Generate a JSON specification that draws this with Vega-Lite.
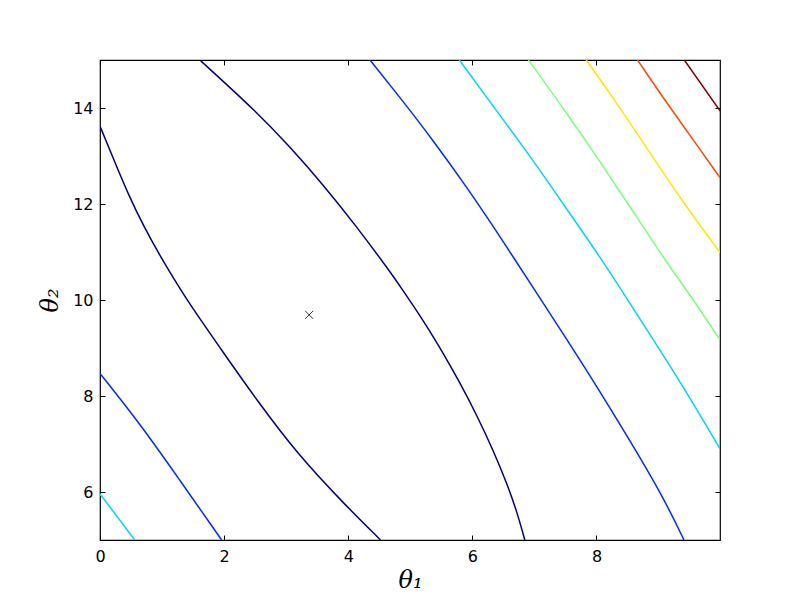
{
  "$schema": "https://vega.github.io/schema/vega-lite/v6.json",
  "width": 620,
  "height": 480,
  "autosize": {"type": "none"},
  "padding": {"left": 100, "top": 60, "right": 80, "bottom": 60},
  "background": "white",
  "config": {
    "view": {"stroke": "black", "strokeWidth": 1.2},
    "axis": {
      "grid": false,
      "domain": false,
      "ticks": true,
      "tickSize": -5,
      "tickColor": "black",
      "tickWidth": 1,
      "labelFlush": false,
      "labelFont": "DejaVu Sans",
      "labelFontSize": 16,
      "labelColor": "black",
      "titleFont": "DejaVu Serif",
      "titleFontStyle": "italic",
      "titleFontWeight": "normal",
      "titleFontSize": 24,
      "titleColor": "black"
    }
  },
  "datasets": {
    "contours": [
      {"branch": "L0a", "level": "L0", "t1": 0, "t2": 13.62},
      {"branch": "L0a", "level": "L0", "t1": 0.237, "t2": 12.88},
      {"branch": "L0a", "level": "L0", "t1": 0.452, "t2": 12.21},
      {"branch": "L0a", "level": "L0", "t1": 0.721, "t2": 11.49},
      {"branch": "L0a", "level": "L0", "t1": 0.99, "t2": 10.87},
      {"branch": "L0a", "level": "L0", "t1": 1.258, "t2": 10.3},
      {"branch": "L0a", "level": "L0", "t1": 1.447, "t2": 9.91},
      {"branch": "L0a", "level": "L0", "t1": 1.984, "t2": 8.91},
      {"branch": "L0a", "level": "L0", "t1": 2.523, "t2": 7.92},
      {"branch": "L0a", "level": "L0", "t1": 3.168, "t2": 6.81},
      {"branch": "L0a", "level": "L0", "t1": 3.919, "t2": 5.77},
      {"branch": "L0a", "level": "L0", "t1": 4.52, "t2": 5.0},
      {"branch": "L0b", "level": "L0", "t1": 1.608, "t2": 15.0},
      {"branch": "L0b", "level": "L0", "t1": 2.523, "t2": 13.92},
      {"branch": "L0b", "level": "L0", "t1": 3.06, "t2": 13.19},
      {"branch": "L0b", "level": "L0", "t1": 3.597, "t2": 12.4},
      {"branch": "L0b", "level": "L0", "t1": 4.135, "t2": 11.53},
      {"branch": "L0b", "level": "L0", "t1": 4.673, "t2": 10.59},
      {"branch": "L0b", "level": "L0", "t1": 4.834, "t2": 10.29},
      {"branch": "L0b", "level": "L0", "t1": 5.156, "t2": 9.68},
      {"branch": "L0b", "level": "L0", "t1": 5.479, "t2": 9.01},
      {"branch": "L0b", "level": "L0", "t1": 5.802, "t2": 8.27},
      {"branch": "L0b", "level": "L0", "t1": 6.071, "t2": 7.6},
      {"branch": "L0b", "level": "L0", "t1": 6.339, "t2": 6.86},
      {"branch": "L0b", "level": "L0", "t1": 6.555, "t2": 6.18},
      {"branch": "L0b", "level": "L0", "t1": 6.716, "t2": 5.6},
      {"branch": "L0b", "level": "L0", "t1": 6.845, "t2": 5.0},
      {"branch": "L1a", "level": "L1", "t1": 4.35, "t2": 15.0},
      {"branch": "L1a", "level": "L1", "t1": 4.834, "t2": 14.22},
      {"branch": "L1a", "level": "L1", "t1": 5.371, "t2": 13.32},
      {"branch": "L1a", "level": "L1", "t1": 5.91, "t2": 12.35},
      {"branch": "L1a", "level": "L1", "t1": 6.447, "t2": 11.32},
      {"branch": "L1a", "level": "L1", "t1": 6.931, "t2": 10.35},
      {"branch": "L1a", "level": "L1", "t1": 7.468, "t2": 9.29},
      {"branch": "L1a", "level": "L1", "t1": 8.006, "t2": 8.2},
      {"branch": "L1a", "level": "L1", "t1": 8.544, "t2": 7.06},
      {"branch": "L1a", "level": "L1", "t1": 9.081, "t2": 5.88},
      {"branch": "L1a", "level": "L1", "t1": 9.41, "t2": 5.0},
      {"branch": "L1b", "level": "L1", "t1": 0, "t2": 8.47},
      {"branch": "L1b", "level": "L1", "t1": 0.64, "t2": 7.43},
      {"branch": "L1b", "level": "L1", "t1": 1.285, "t2": 6.25},
      {"branch": "L1b", "level": "L1", "t1": 1.96, "t2": 5.0},
      {"branch": "L2a", "level": "L2", "t1": 5.79, "t2": 15.0},
      {"branch": "L2a", "level": "L2", "t1": 6.447, "t2": 13.84},
      {"branch": "L2a", "level": "L2", "t1": 6.984, "t2": 12.9},
      {"branch": "L2a", "level": "L2", "t1": 7.523, "t2": 11.89},
      {"branch": "L2a", "level": "L2", "t1": 8.06, "t2": 10.89},
      {"branch": "L2a", "level": "L2", "t1": 8.49, "t2": 10.03},
      {"branch": "L2a", "level": "L2", "t1": 8.81, "t2": 9.38},
      {"branch": "L2a", "level": "L2", "t1": 9.35, "t2": 8.3},
      {"branch": "L2a", "level": "L2", "t1": 9.99, "t2": 6.9},
      {"branch": "L2b", "level": "L2", "t1": 0, "t2": 5.96},
      {"branch": "L2b", "level": "L2", "t1": 0.56, "t2": 5.0},
      {"branch": "L3a", "level": "L3", "t1": 6.903, "t2": 15.0},
      {"branch": "L3a", "level": "L3", "t1": 7.523, "t2": 13.89},
      {"branch": "L3a", "level": "L3", "t1": 8.06, "t2": 12.88},
      {"branch": "L3a", "level": "L3", "t1": 8.597, "t2": 11.83},
      {"branch": "L3a", "level": "L3", "t1": 9.135, "t2": 10.77},
      {"branch": "L3a", "level": "L3", "t1": 9.565, "t2": 10.0},
      {"branch": "L3a", "level": "L3", "t1": 9.99, "t2": 9.17},
      {"branch": "L4a", "level": "L4", "t1": 7.834, "t2": 15.0},
      {"branch": "L4a", "level": "L4", "t1": 8.329, "t2": 14.1},
      {"branch": "L4a", "level": "L4", "t1": 8.866, "t2": 13.06},
      {"branch": "L4a", "level": "L4", "t1": 9.403, "t2": 12.02},
      {"branch": "L4a", "level": "L4", "t1": 9.99, "t2": 10.99},
      {"branch": "L5a", "level": "L5", "t1": 8.661, "t2": 15.0},
      {"branch": "L5a", "level": "L5", "t1": 9.135, "t2": 14.1},
      {"branch": "L5a", "level": "L5", "t1": 9.672, "t2": 13.13},
      {"branch": "L5a", "level": "L5", "t1": 9.99, "t2": 12.55},
      {"branch": "L6a", "level": "L6", "t1": 9.415, "t2": 15.0},
      {"branch": "L6a", "level": "L6", "t1": 9.99, "t2": 13.94}
    ],
    "minpt": [{"t1": 3.37, "t2": 9.69}]
  },
  "layer": [
    {
      "data": {"name": "contours"},
      "mark": {"type": "line", "interpolate": "basis", "strokeWidth": 1.5, "clip": true},
      "encoding": {
        "x": {
          "field": "t1", "type": "quantitative",
          "scale": {"domain": [0, 9.99], "nice": false, "zero": false},
          "axis": {"orient": "bottom", "values": [0, 2, 4, 6, 8], "labelPadding": 13, "title": "θ₁", "titlePadding": 4}
        },
        "y": {
          "field": "t2", "type": "quantitative",
          "scale": {"domain": [5, 15], "nice": false, "zero": false},
          "axis": {"orient": "left", "values": [6, 8, 10, 12, 14], "labelPadding": 12, "title": "θ₂", "titlePadding": 10}
        },
        "detail": {"field": "branch"},
        "color": {
          "field": "level", "type": "nominal",
          "scale": {"domain": ["L0", "L1", "L2", "L3", "L4", "L5", "L6"],
                    "range": ["#00007f", "#002aff", "#00d4ff", "#7bff7b", "#ffe600", "#ff4800", "#7f0000"]},
          "legend": null
        }
      }
    },
    {
      "data": {"name": "minpt"},
      "mark": {"type": "point", "shape": "M-1,-1L1,1M-1,1L1,-1", "filled": false, "stroke": "black", "strokeWidth": 0.8, "size": 64, "opacity": 1},
      "encoding": {
        "x": {"field": "t1", "type": "quantitative",
              "axis": {"orient": "top", "values": [0, 2, 4, 6, 8], "labels": false, "title": null}},
        "y": {"field": "t2", "type": "quantitative",
              "axis": {"orient": "right", "values": [6, 8, 10, 12, 14], "labels": false, "title": null}}
      }
    }
  ],
  "resolve": {"axis": {"x": "independent", "y": "independent"}}
}
